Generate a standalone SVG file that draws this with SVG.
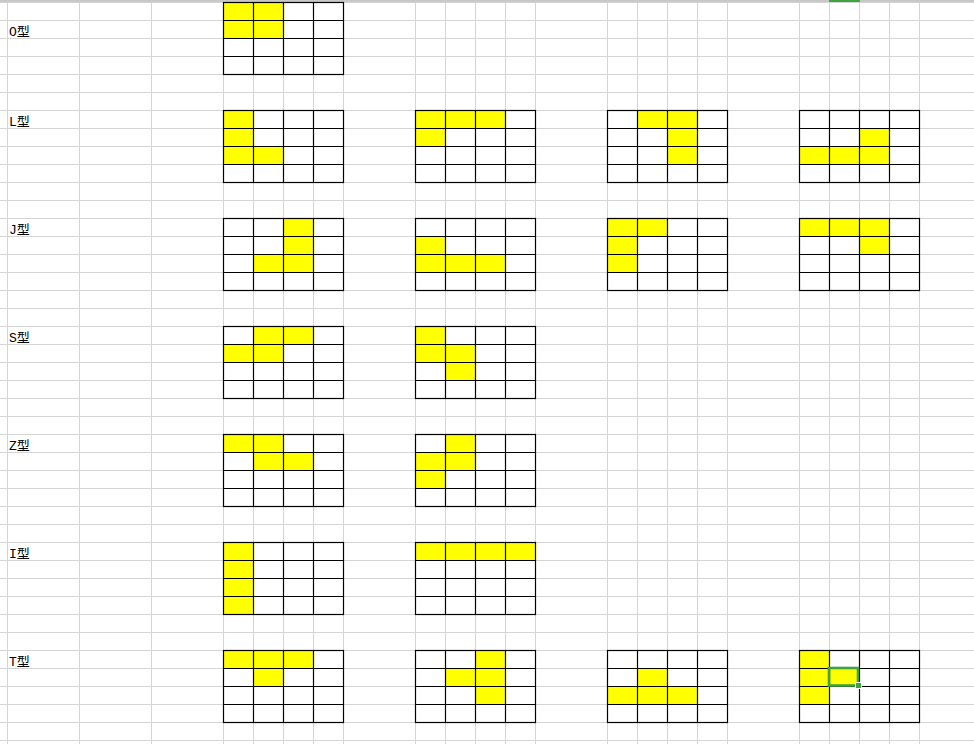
<svg xmlns="http://www.w3.org/2000/svg" xmlns:xlink="http://www.w3.org/1999/xlink" width="974" height="744" viewBox="0 0 974 744">
<style>
.gl{stroke:#d4d4d4;stroke-width:1;fill:none}
.bk{stroke:#000;stroke-width:1.2;fill:none}
.y{fill:#ffff00}
.lbl{font-family:"Liberation Mono","Noto Sans CJK SC",monospace;font-size:13px;fill:#000}
</style>
<defs>
<g id="grid4">
<rect class="bk" x="0" y="0" width="120" height="72"/>
<path class="bk" d="M30 0V72M60 0V72M90 0V72M0 18H120M0 36H120M0 54H120"/>
</g>
</defs>
<rect width="974" height="744" fill="#fff"/>
<g id="sheet-grid">
<path class="gl" d="M7.5 0V744M79.5 0V744M151.5 0V744M223.5 0V744M253.5 0V744M283.5 0V744M313.5 0V744M343.5 0V744M415.5 0V744M445.5 0V744M475.5 0V744M505.5 0V744M535.5 0V744M607.5 0V744M637.5 0V744M667.5 0V744M697.5 0V744M727.5 0V744M799.5 0V744M829.5 0V744M859.5 0V744M889.5 0V744M919.5 0V744"/>
<path class="gl" d="M0 2.5H974M0 20.5H974M0 38.5H974M0 56.5H974M0 74.5H974M0 92.5H974M0 110.5H974M0 128.5H974M0 146.5H974M0 164.5H974M0 182.5H974M0 200.5H974M0 218.5H974M0 236.5H974M0 254.5H974M0 272.5H974M0 290.5H974M0 308.5H974M0 326.5H974M0 344.5H974M0 362.5H974M0 380.5H974M0 398.5H974M0 416.5H974M0 434.5H974M0 452.5H974M0 470.5H974M0 488.5H974M0 506.5H974M0 524.5H974M0 542.5H974M0 560.5H974M0 578.5H974M0 596.5H974M0 614.5H974M0 632.5H974M0 650.5H974M0 668.5H974M0 686.5H974M0 704.5H974M0 722.5H974M0 740.5H974"/>
<rect x="0" y="0" width="974" height="2" fill="#c8c8c8"/>
<rect x="829" y="0" width="31" height="2" fill="#3fa33f"/>
</g>
<g id="labels">
<text class="lbl" x="9" y="35.5">O型</text>
<text class="lbl" x="9" y="125.5">L型</text>
<text class="lbl" x="9" y="233.5">J型</text>
<text class="lbl" x="9" y="341.5">S型</text>
<text class="lbl" x="9" y="449.5">Z型</text>
<text class="lbl" x="9" y="557.5">I型</text>
<text class="lbl" x="9" y="665.5">T型</text>
</g>
<g id="O1" transform="translate(223.5,2.5)">
<rect class="y" x="0" y="0" width="60" height="36"/>
<use xlink:href="#grid4" href="#grid4"/>
</g>
<g id="L1" transform="translate(223.5,110.5)">
<rect class="y" x="0" y="0" width="30" height="54"/><rect class="y" x="30" y="36" width="30" height="18"/>
<use xlink:href="#grid4" href="#grid4"/>
</g>
<g id="L2" transform="translate(415.5,110.5)">
<rect class="y" x="0" y="0" width="90" height="18"/><rect class="y" x="0" y="18" width="30" height="18"/>
<use xlink:href="#grid4" href="#grid4"/>
</g>
<g id="L3" transform="translate(607.5,110.5)">
<rect class="y" x="30" y="0" width="60" height="18"/><rect class="y" x="60" y="18" width="30" height="36"/>
<use xlink:href="#grid4" href="#grid4"/>
</g>
<g id="L4" transform="translate(799.5,110.5)">
<rect class="y" x="60" y="18" width="30" height="18"/><rect class="y" x="0" y="36" width="90" height="18"/>
<use xlink:href="#grid4" href="#grid4"/>
</g>
<g id="J1" transform="translate(223.5,218.5)">
<rect class="y" x="60" y="0" width="30" height="54"/><rect class="y" x="30" y="36" width="30" height="18"/>
<use xlink:href="#grid4" href="#grid4"/>
</g>
<g id="J2" transform="translate(415.5,218.5)">
<rect class="y" x="0" y="18" width="30" height="18"/><rect class="y" x="0" y="36" width="90" height="18"/>
<use xlink:href="#grid4" href="#grid4"/>
</g>
<g id="J3" transform="translate(607.5,218.5)">
<rect class="y" x="0" y="0" width="60" height="18"/><rect class="y" x="0" y="18" width="30" height="36"/>
<use xlink:href="#grid4" href="#grid4"/>
</g>
<g id="J4" transform="translate(799.5,218.5)">
<rect class="y" x="0" y="0" width="90" height="18"/><rect class="y" x="60" y="18" width="30" height="18"/>
<use xlink:href="#grid4" href="#grid4"/>
</g>
<g id="S1" transform="translate(223.5,326.5)">
<rect class="y" x="30" y="0" width="60" height="18"/><rect class="y" x="0" y="18" width="60" height="18"/>
<use xlink:href="#grid4" href="#grid4"/>
</g>
<g id="S2" transform="translate(415.5,326.5)">
<rect class="y" x="0" y="0" width="30" height="36"/><rect class="y" x="30" y="18" width="30" height="36"/>
<use xlink:href="#grid4" href="#grid4"/>
</g>
<g id="Z1" transform="translate(223.5,434.5)">
<rect class="y" x="0" y="0" width="60" height="18"/><rect class="y" x="30" y="18" width="60" height="18"/>
<use xlink:href="#grid4" href="#grid4"/>
</g>
<g id="Z2" transform="translate(415.5,434.5)">
<rect class="y" x="30" y="0" width="30" height="36"/><rect class="y" x="0" y="18" width="30" height="36"/>
<use xlink:href="#grid4" href="#grid4"/>
</g>
<g id="I1" transform="translate(223.5,542.5)">
<rect class="y" x="0" y="0" width="30" height="72"/>
<use xlink:href="#grid4" href="#grid4"/>
</g>
<g id="I2" transform="translate(415.5,542.5)">
<rect class="y" x="0" y="0" width="120" height="18"/>
<use xlink:href="#grid4" href="#grid4"/>
</g>
<g id="T1" transform="translate(223.5,650.5)">
<rect class="y" x="0" y="0" width="90" height="18"/><rect class="y" x="30" y="18" width="30" height="18"/>
<use xlink:href="#grid4" href="#grid4"/>
</g>
<g id="T2" transform="translate(415.5,650.5)">
<rect class="y" x="60" y="0" width="30" height="54"/><rect class="y" x="30" y="18" width="30" height="18"/>
<use xlink:href="#grid4" href="#grid4"/>
</g>
<g id="T3" transform="translate(607.5,650.5)">
<rect class="y" x="30" y="18" width="30" height="18"/><rect class="y" x="0" y="36" width="90" height="18"/>
<use xlink:href="#grid4" href="#grid4"/>
</g>
<g id="T4" transform="translate(799.5,650.5)">
<rect class="y" x="0" y="0" width="30" height="54"/><rect class="y" x="30" y="18" width="30" height="18"/>
<use xlink:href="#grid4" href="#grid4"/>
</g>
<g id="selection">
<rect x="829" y="668" width="29" height="17.5" fill="none" stroke="#3fa33f" stroke-width="2.6"/>
<rect x="855.5" y="682.5" width="6" height="6" fill="#3fa33f" stroke="#fff" stroke-width="1"/>
</g>
</svg>
